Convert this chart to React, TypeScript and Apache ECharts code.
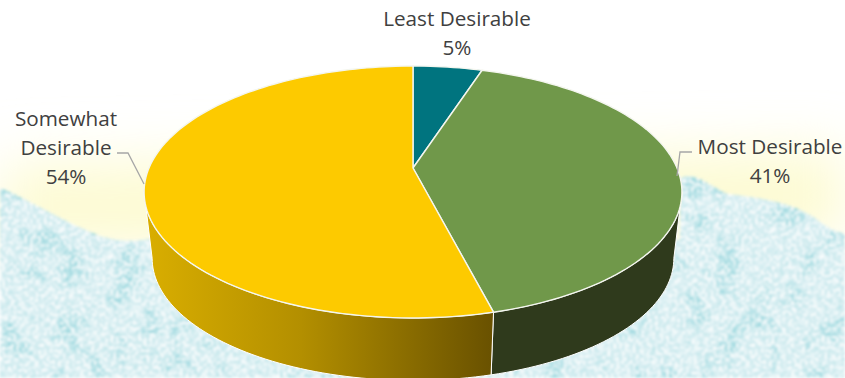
import React, { useEffect, useRef } from "react";
import * as echarts from "echarts";

// Share of responses per desirability rating, clockwise from twelve o'clock.
const ratingNames = ["Least Desirable", "Most Desirable", "Somewhat\nDesirable"];
const ratingShares = [5, 41, 54];

const topColors = ["#00747f", "#70984a", "#fdca00"];
const WIDTH = 845;
const HEIGHT = 378;

// Perspective disc: the hub sits above the ellipse centre because the far rim recedes.
const HUB_X = 413;
const HUB_Y = 168;
const RIM_X = 264;
const RIM_Y = 121.4;
const TILT = 0.1905;
const BASE_SCALE = 0.97;
const BASE_HUB_Y = 235;
const WALL_FROM = 101;
const WALL_TO = 259;

const project = (deg: number, scale: number, hubY: number) => {
  const rad = (deg * Math.PI) / 180;
  const w = 1 + TILT * Math.cos(rad);
  return [
    HUB_X + (scale * RIM_X * Math.sin(rad)) / w,
    hubY - (scale * RIM_Y * Math.cos(rad)) / w,
  ];
};

const arc = (from: number, to: number, scale: number, hubY: number) => {
  const steps = Math.max(2, Math.ceil((to - from) / 1.5));
  const pts: number[][] = [];
  for (let i = 0; i <= steps; i++) {
    pts.push(project(from + ((to - from) * i) / steps, scale, hubY));
  }
  return pts;
};

const wallFills: any[] = [
  "#00474e",
  "#2f3a1c",
  {
    type: "linear",
    global: true,
    x: 146,
    y: 0,
    x2: 490,
    y2: 0,
    colorStops: [
      { offset: 0, color: "#d9ae00" },
      { offset: 0.45, color: "#b38f00" },
      { offset: 1, color: "#6a5200" },
    ],
  },
];

const labelAnchors = [
  { x: 457, y: 32.5 },
  { x: 770, y: 160 },
  { x: 66, y: 146.5 },
];

const leaderLines = [
  null,
  [[677, 176], [680, 152], [692, 152]],
  [[117, 153], [128, 153], [144, 184]],
];

const renderSlice = (params: any, api: any) => {
  const i = params.dataIndex;
  const total = ratingShares.reduce((s, v) => s + v, 0);
  const before = ratingShares.slice(0, i).reduce((s, v) => s + v, 0);
  const start = (before / total) * 360;
  const end = start + ((api.value(0) as number) / total) * 360;
  const children: any[] = [];

  const wallStart = Math.max(start, WALL_FROM);
  const wallEnd = Math.min(end, WALL_TO);
  if (wallEnd > wallStart) {
    children.push({
      type: "polygon",
      shape: {
        points: [
          ...arc(wallStart, wallEnd, 1, HUB_Y),
          ...arc(wallStart, wallEnd, BASE_SCALE, BASE_HUB_Y).reverse(),
        ],
      },
      style: { fill: wallFills[i], stroke: "#ffffff", lineWidth: 1 },
    });
  }

  children.push({
    type: "polygon",
    z2: 5,
    shape: { points: [[HUB_X, HUB_Y], ...arc(start, end, 1, HUB_Y)] },
    style: { fill: topColors[i], stroke: "#f4f6ef", lineWidth: 1.4 },
  });

  const leader = leaderLines[i];
  if (leader) {
    children.push({
      type: "polyline",
      z2: 6,
      shape: { points: leader },
      style: { fill: "none", stroke: "#a6a6a6", lineWidth: 1.3 },
    });
  }

  children.push({
    type: "text",
    z2: 7,
    x: labelAnchors[i].x,
    y: labelAnchors[i].y,
    style: {
      text: `${ratingNames[i]}\n${api.value(0)}%`,
      fill: "#404040",
      font: '20.7px "Open Sans"',
      lineHeight: 29,
      align: "center",
      verticalAlign: "middle",
    },
  });

  return { type: "group", children };
};

const shoreline =
  "M0,188 C30,200 60,220 100,236 C125,244 140,240 160,238 L680,240 L680,178 C695,172 705,182 725,193 C750,198 785,198 815,218 C825,226 835,232 845,234 L845,378 L0,378 Z";

const Backdrop = () => (
  <svg
    width={WIDTH}
    height={HEIGHT}
    style={{ position: "absolute", left: 0, top: 0 }}
  >
    <defs>
      <filter id="haze" x="-10%" y="-60%" width="120%" height="220%">
        <feGaussianBlur stdDeviation="28" />
      </filter>
      <filter
        id="speckle"
        x="0"
        y="0"
        width="100%"
        height="100%"
        colorInterpolationFilters="sRGB"
      >
        <feFlood floodColor="#c3e6eb" result="base" />
        <feTurbulence type="fractalNoise" baseFrequency="0.035" numOctaves="3" seed="9" result="coarse" />
        <feColorMatrix
          in="coarse"
          type="matrix"
          values="0 0 0 0 0.56  0 0 0 0 0.83  0 0 0 0 0.86  5 0 0 0 -2.6"
          result="patches"
        />
        <feTurbulence type="fractalNoise" baseFrequency="0.36" numOctaves="2" seed="4" result="fine" />
        <feColorMatrix
          in="fine"
          type="matrix"
          values="0 0 0 0 1  0 0 0 0 1  0 0 0 0 1  5 0 0 0 -2.1"
          result="flecks"
        />
        <feGaussianBlur in="flecks" stdDeviation="0.6" result="softFlecks" />
        <feMerge result="texture">
          <feMergeNode in="base" />
          <feMergeNode in="patches" />
          <feMergeNode in="softFlecks" />
        </feMerge>
        <feComposite in="texture" in2="SourceAlpha" operator="in" />
      </filter>
      <filter id="softEdge" x="-2%" y="-2%" width="104%" height="104%">
        <feGaussianBlur stdDeviation="1.5" />
      </filter>
    </defs>
    <rect width={WIDTH} height={HEIGHT} fill="#ffffff" />
    <path d="M0,165 L845,150 L845,240 L0,250 Z" fill="#fdfbd2" filter="url(#haze)" />
    <g filter="url(#softEdge)">
      <path d={shoreline} fill="#000" filter="url(#speckle)" />
    </g>
  </svg>
);

export default function App() {
  const host = useRef<HTMLDivElement>(null);

  useEffect(() => {
    const chart = echarts.init(host.current!, undefined, { renderer: "svg" });
    chart.setOption({
      animation: false,
      backgroundColor: "transparent",
      series: [
        {
          type: "custom",
          coordinateSystem: "none",
          silent: true,
          clip: false,
          data: ratingShares.map((v) => [v]),
          renderItem: renderSlice,
        },
      ],
    });
    return () => chart.dispose();
  }, []);

  return (
    <div style={{ position: "fixed", left: 0, top: 0, width: WIDTH, height: HEIGHT, overflow: "hidden" }}>
      <Backdrop />
      <div
        ref={host}
        style={{ position: "absolute", left: 0, top: 0, width: WIDTH, height: HEIGHT }}
      />
    </div>
  );
}
